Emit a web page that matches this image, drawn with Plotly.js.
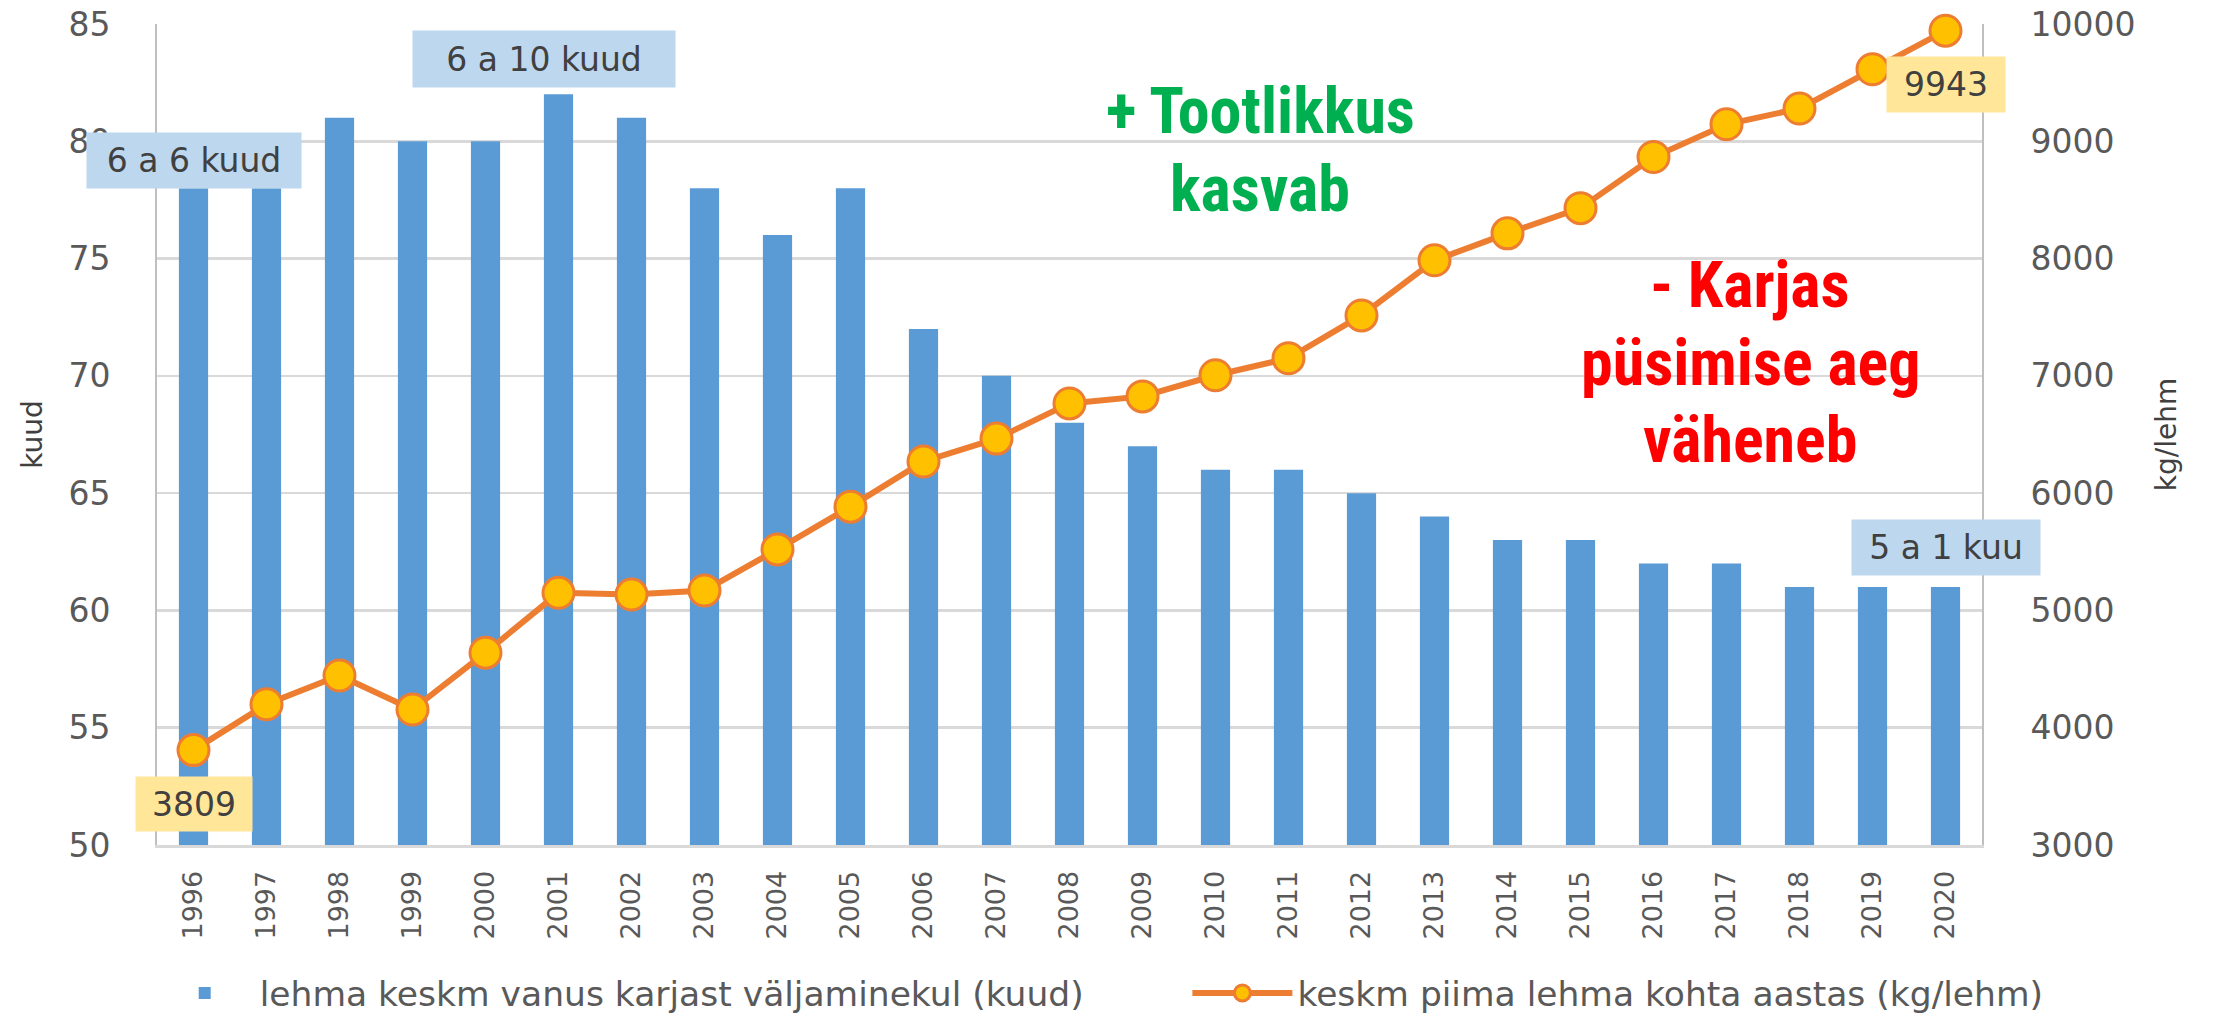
<!DOCTYPE html>
<html><head><meta charset="utf-8">
<script src="https://cdn.plot.ly/plotly-3.0.1.min.js"></script>
<style>html,body{margin:0;padding:0;background:#fff;} #chart{width:2219px;height:1018px;}</style>
</head><body><div id="chart"></div>
<script>
const years = [1996,1997,1998,1999,2000,2001,2002,2003,2004,2005,2006,2007,2008,2009,2010,2011,2012,2013,2014,2015,2016,2017,2018,2019,2020];
const yearLabels = years.map(String);
const ageMonths = [78,78,81,80,80,82,81,78,76,78,72,70,68,67,66,66,65,64,63,63,62,62,61,61,61];
const milkKg = [3809,4200,4445,4155,4640,5150,5135,5170,5520,5885,6270,6465,6765,6825,7005,7150,7515,7985,8215,8430,8866,9145,9279,9614,9943];
const seriesNames = ["lehma keskm vanus karjast väljaminekul (kuud)", "keskm piima lehma kohta aastas (kg/lehm)"];
const boxLabels = ["6 a 6 kuud", "6 a 10 kuud", "5 a 1 kuu"];
const noteGreen = ["+ Tootlikkus", "kasvab"];
const noteRed = ["- Karjas", "püsimise aeg", "väheneb"];
const axisTitles = ["kuud", "kg/lehm"];

const tickFont = {family: 'DejaVu Sans, sans-serif', size: 33, color: '#595959'};
const boxFont = {family: 'DejaVu Sans, sans-serif', size: 33, color: '#404040'};
const bigFont = 'Liberation Sans Narrow, Roboto Condensed, DejaVu Sans Condensed, sans-serif';

const traces = [
  {
    type: 'bar', name: seriesNames[0] + '\u00A0'.repeat(9), x: years, y: ageMonths, yaxis: 'y',
    width: 0.4, marker: {color: '#5B9BD5'}
  },
  {
    type: 'scatter', mode: 'lines+markers', name: seriesNames[1], x: years, y: milkKg, yaxis: 'y2',
    cliponaxis: false,
    line: {color: '#ED7D31', width: 6},
    marker: {size: 31, color: '#FFC000', line: {color: '#ED7D31', width: 3}}
  }
];

function boxAnn(text, xref, x, y, w, h, bg) {
  return {text: text, xref: xref, x: x, yref: 'paper', y: y, showarrow: false,
    xanchor: 'center', yanchor: 'middle', bgcolor: bg, width: w, height: h, borderpad: 5,
    font: boxFont};
}
function bigAnn(text, x, y, color) {
  return {text: '<b>' + text + '</b>', xref: 'paper', x: x, yref: 'paper', y: y, showarrow: false,
    xanchor: 'center', yanchor: 'middle',
    font: {family: bigFont, size: 64, color: color}};
}

const annotations = [
  boxAnn(boxLabels[0], 'x', years[0], 0.8337, 204, 45, '#BDD7EE'),
  boxAnn(boxLabels[1], 'paper', 0.2121, 0.9568, 252, 46, '#BDD7EE'),
  boxAnn(boxLabels[2], 'x', years[years.length - 1], 0.3624, 178, 45, '#BDD7EE'),
  boxAnn(String(milkKg[0]), 'x', years[0], 0.0499, 106, 44, '#FFE699'),
  boxAnn(String(milkKg[milkKg.length - 1]), 'x', years[years.length - 1], 0.9263, 108, 45, '#FFE699'),
  bigAnn(noteGreen[0], 0.6044, 0.8933, '#00B050'),
  bigAnn(noteGreen[1], 0.6044, 0.7983, '#00B050'),
  bigAnn(noteRed[0], 0.8729, 0.6820, '#FF0000'),
  bigAnn(noteRed[1], 0.8729, 0.5870, '#FF0000'),
  bigAnn(noteRed[2], 0.8729, 0.4921, '#FF0000')
];

const layout = {
  width: 2219, height: 1018,
  margin: {l: 157, r: 237, t: 24, b: 173, autoexpand: false},
  paper_bgcolor: '#ffffff', plot_bgcolor: '#ffffff',
  showlegend: true,
  xaxis: {
    range: [1995.5, 2020.5], tickmode: 'array', tickvals: years, ticktext: yearLabels,
    tickangle: -90, ticks: '', showgrid: false, zeroline: false,
    showline: true, linecolor: '#D9D9D9', linewidth: 3,
    tickfont: {family: 'DejaVu Sans, sans-serif', size: 27, color: '#595959'},
    ticklabelstandoff: 12, fixedrange: true
  },
  yaxis: {
    range: [50, 85], tick0: 50, dtick: 5, ticks: '',
    showgrid: true, gridcolor: '#D9D9D9', gridwidth: 2.5, zeroline: false,
    showline: true, linecolor: '#BFBFBF', linewidth: 2,
    tickfont: tickFont, ticklabelstandoff: 38,
    title: {text: axisTitles[0], font: {family: 'DejaVu Sans, sans-serif', size: 28, color: '#404040'}, standoff: 18}
  },
  yaxis2: {
    overlaying: 'y', side: 'right', range: [3000, 10000], tick0: 3000, dtick: 1000, ticks: '',
    tickformat: 'd',
    showgrid: false, zeroline: false,
    showline: true, linecolor: '#BFBFBF', linewidth: 2,
    tickfont: tickFont, ticklabelstandoff: 40,
    title: {text: axisTitles[1], font: {family: 'DejaVu Sans, sans-serif', size: 28, color: '#404040'}, standoff: 22}
  },
  legend: {
    orientation: 'h', x: -0.004, xanchor: 'left', y: -0.1803, yanchor: 'middle',
    font: {family: 'DejaVu Sans, sans-serif', size: 34.5, color: '#595959'},
    itemwidth: 100,
    bgcolor: 'rgba(0,0,0,0)'
  },
  annotations: annotations
};

Plotly.newPlot('chart', traces, layout, {displayModeBar: false, staticPlot: true});
</script>
</body></html>
